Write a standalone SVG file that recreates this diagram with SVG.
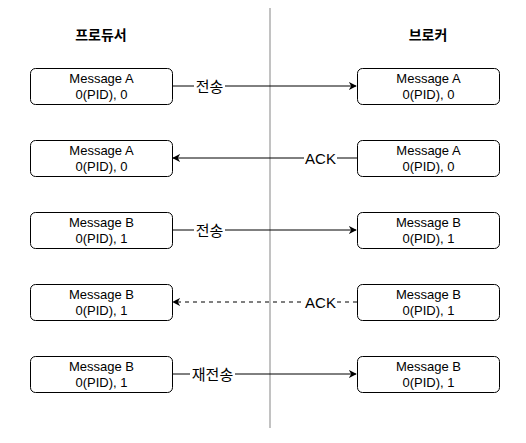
<svg xmlns="http://www.w3.org/2000/svg" width="526" height="443" viewBox="0 0 526 443">
<style>
.box{fill:#fff;stroke:#000;stroke-width:1}
.t{font-family:"Liberation Sans",Arial,"Noto Sans CJK KR",sans-serif;font-size:13px;fill:#000;text-anchor:middle}
.l{font-family:"Liberation Sans",Arial,"Noto Sans CJK KR",sans-serif;font-size:15px;fill:#000;text-anchor:middle}
.h{font-family:"Liberation Sans",Arial,"Noto Sans CJK KR",sans-serif;font-size:14px;font-weight:bold;fill:#000;text-anchor:middle}
.c{stroke:#000;stroke-width:1;fill:none}
.lbl{fill:#fff}
</style>
<defs>
<marker id="ah" viewBox="0 0 10 10" refX="9" refY="5" markerWidth="8" markerHeight="8" markerUnits="userSpaceOnUse" orient="auto">
<path d="M0,0 L10,5 L0,10 L3,5 Z" fill="#000"/>
</marker>
</defs>
<rect width="526" height="443" fill="#fff"/>
<line x1="270" y1="8" x2="270" y2="428" stroke="#999" stroke-width="1.2"/>
<text class="h" x="101" y="40">프로듀서</text>
<text class="h" x="428" y="40">브로커</text>
<g id="connectors">
<line class="c" x1="172" y1="86" x2="356" y2="86" marker-end="url(#ah)"/>
<rect class="lbl" x="194" y="77" width="31" height="18"/>
<text class="l" x="209.5" y="91.5">전송</text>
<line class="c" x1="357" y1="158" x2="173" y2="158" marker-end="url(#ah)"/>
<rect class="lbl" x="304" y="149" width="33" height="18"/>
<text class="l" x="320.5" y="163.5">ACK</text>
<line class="c" x1="172" y1="230" x2="356" y2="230" marker-end="url(#ah)"/>
<rect class="lbl" x="194" y="221" width="31" height="18"/>
<text class="l" x="209.5" y="235.5">전송</text>
<line class="c" x1="357" y1="302" x2="173" y2="302" stroke-dasharray="4 4" marker-end="url(#ah)"/>
<rect class="lbl" x="304" y="293" width="33" height="18"/>
<text class="l" x="320.5" y="307.5">ACK</text>
<line class="c" x1="172" y1="374" x2="356" y2="374" marker-end="url(#ah)"/>
<rect class="lbl" x="190" y="365" width="45" height="18"/>
<text class="l" x="212.5" y="379.5">재전송</text>
</g>
<g id="p1"><rect class="box" x="30.5" y="68.5" width="142" height="36" rx="5"/><text class="t" x="101.5" y="82.5">Message A</text><text class="t" x="101.5" y="98.5">0(PID), 0</text></g>
<g id="b1"><rect class="box" x="357.5" y="68.5" width="142" height="36" rx="5"/><text class="t" x="428.5" y="82.5">Message A</text><text class="t" x="428.5" y="98.5">0(PID), 0</text></g>
<g id="p2"><rect class="box" x="30.5" y="140.5" width="142" height="36" rx="5"/><text class="t" x="101.5" y="154.5">Message A</text><text class="t" x="101.5" y="170.5">0(PID), 0</text></g>
<g id="b2"><rect class="box" x="357.5" y="140.5" width="142" height="36" rx="5"/><text class="t" x="428.5" y="154.5">Message A</text><text class="t" x="428.5" y="170.5">0(PID), 0</text></g>
<g id="p3"><rect class="box" x="30.5" y="212.5" width="142" height="36" rx="5"/><text class="t" x="101.5" y="226.5">Message B</text><text class="t" x="101.5" y="242.5">0(PID), 1</text></g>
<g id="b3"><rect class="box" x="357.5" y="212.5" width="142" height="36" rx="5"/><text class="t" x="428.5" y="226.5">Message B</text><text class="t" x="428.5" y="242.5">0(PID), 1</text></g>
<g id="p4"><rect class="box" x="30.5" y="284.5" width="142" height="36" rx="5"/><text class="t" x="101.5" y="298.5">Message B</text><text class="t" x="101.5" y="314.5">0(PID), 1</text></g>
<g id="b4"><rect class="box" x="357.5" y="284.5" width="142" height="36" rx="5"/><text class="t" x="428.5" y="298.5">Message B</text><text class="t" x="428.5" y="314.5">0(PID), 1</text></g>
<g id="p5"><rect class="box" x="30.5" y="356.5" width="142" height="36" rx="5"/><text class="t" x="101.5" y="370.5">Message B</text><text class="t" x="101.5" y="386.5">0(PID), 1</text></g>
<g id="b5"><rect class="box" x="357.5" y="356.5" width="142" height="36" rx="5"/><text class="t" x="428.5" y="370.5">Message B</text><text class="t" x="428.5" y="386.5">0(PID), 1</text></g>
</svg>
